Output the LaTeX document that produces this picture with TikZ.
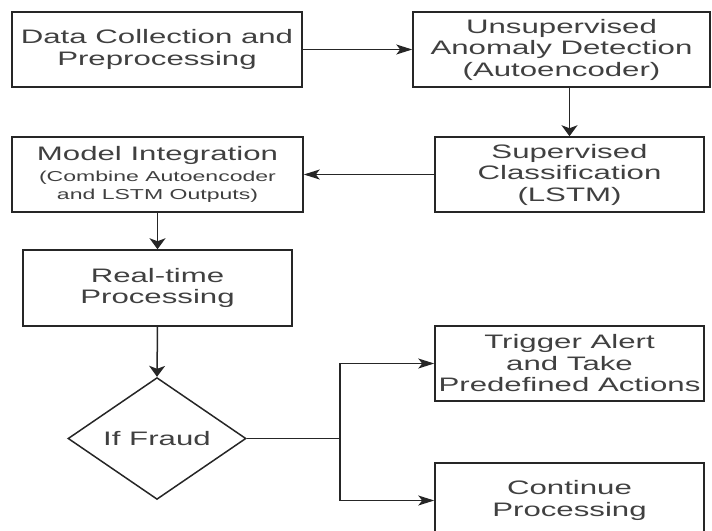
\documentclass[tikz,border=0pt]{standalone}
\usepackage{fontspec}
\setmainfont{Liberation Sans}[FakeStretch=1.6]
\usetikzlibrary{shapes.geometric}
\usetikzlibrary{arrows.meta}

\tikzset{
  procbox/.style={draw=black!85, line width=1.5pt, rectangle, align=center, inner sep=0pt,
    text=black!75, font=\fontsize{19.5}{21.5}\selectfont},
  decision/.style={draw=black!85, line width=1.5pt, diamond, align=center, inner sep=0pt,
    text=black!75, font=\fontsize{19.5}{21.5}\selectfont, minimum width=178pt, minimum height=99pt},
  flowline/.style={draw=black!85, line width=1.5pt},
  flowh/.style={flowline, -{Stealth[length=16pt,width=10pt,inset=4pt]}},
  flowv/.style={flowline, -{Stealth[length=11pt,width=16pt,inset=3pt]}}
}

\begin{document}
\begin{tikzpicture}[x=1pt,y=-1pt]
		\useasboundingbox (0,0) rectangle (712,530);
		
		% Draw the steps
		\node[procbox, minimum width=290pt, minimum height=75pt] (collect) at (157,49.5) {Data Collection and\\Preprocessing};
		\node[procbox, minimum width=297pt, minimum height=75pt] (unsup) at (561.5,49.5) {Unsupervised\\Anomaly Detection\\(Autoencoder)};
		\node[procbox, minimum width=269pt, minimum height=75pt] (supclass) at (569.5,174.5) {Supervised\\Classification\\(LSTM)};
		\node[procbox, minimum width=291pt, minimum height=75pt] (integrate) at (157.5,174.5) {Model Integration\\[-1pt]{\fontsize{14.4}{18}\selectfont (Combine Autoencoder}\\[-3pt]{\fontsize{14.4}{18}\selectfont and LSTM Outputs)}};
		\node[procbox, minimum width=269pt, minimum height=76pt] (realtime) at (157.5,288) {Real-time\\Processing};
		\node[decision] (fraud) at (157,438.5) {If Fraud};
		\node[procbox, minimum width=269pt, minimum height=75pt] (alert) at (569.5,363.5) {Trigger Alert\\and Take\\Predefined Actions};
		\node[procbox, minimum width=269pt, minimum height=75pt] (cont) at (569.5,500.5) {Continue\\Processing};
		\coordinate (split) at (340,438.5);
		
		% Connect the steps
		\draw[flowh] (collect.east) -- (unsup.west);
		\draw[flowv] (supclass.north |- unsup.south) -- (supclass.north);
		\draw[flowh] (supclass.west) -- (integrate.east);
		\draw[flowv] (integrate.south) -- (realtime.north);
		\draw[flowv] (realtime.south) -- (fraud.north);
		\draw[flowline] (fraud.east) -- (split);
		\draw[flowh] (split) |- (alert.west);
		\draw[flowh] (split) |- (cont.west);
	\end{tikzpicture}
\end{document}
